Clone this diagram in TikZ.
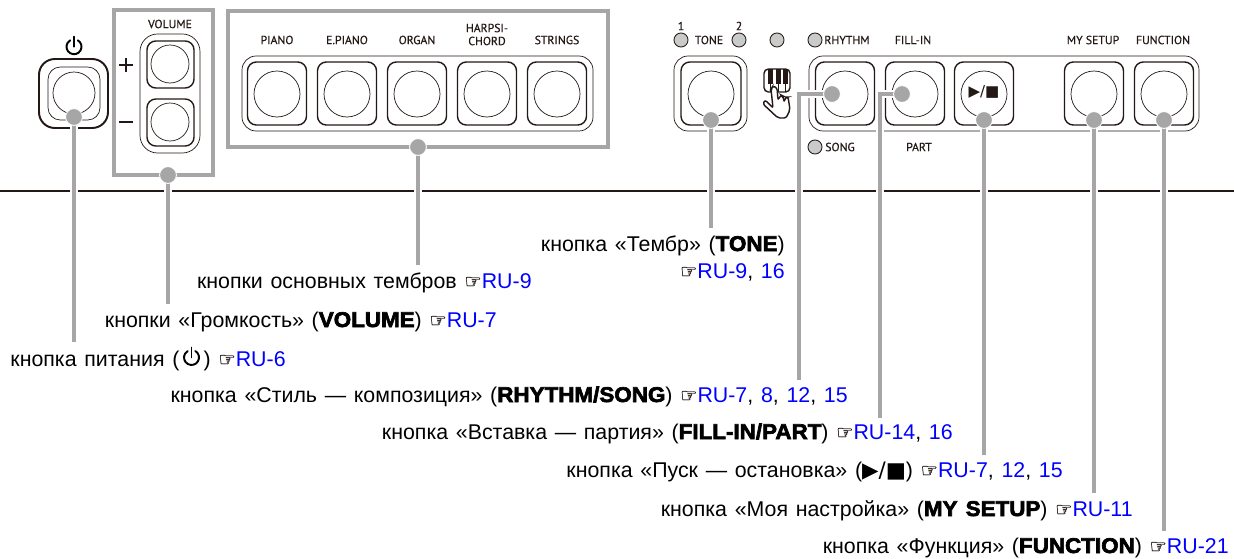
\documentclass[tikz,border=0pt]{standalone}
\usepackage{fontspec}
\setmainfont{Liberation Sans}[WordSpace=1.3,BoldFeatures={FakeBold=3,FakeStretch=1.05}]
\newfontfamily\symfont{DejaVu Sans}
\newfontfamily\handfont{DejaVu Sans}[FakeBold=.6]
\newfontfamily\panelfont{PT Sans}[FakeBold=.5]
\definecolor{calloutgray}{HTML}{A6A6A6}
\definecolor{ledgray}{HTML}{C9CACA}
\definecolor{ink}{HTML}{231815}
\definecolor{linkblue}{HTML}{0000FF}
\pgfdeclarelayer{dots}
\pgfsetlayers{main,dots}
\newcommand{\pointer}{{\handfont\fontsize{11}{13}\selectfont\color{ink}☞}}
\newcommand{\pg}[1]{\textcolor{linkblue}{#1}}
\newcommand{\powericon}{\tikz[baseline=-.4em,x=1cm,y=1cm,line width=1.1pt,line cap=round]{\draw (60:.15)arc(60:-240:.15);\draw (0,.2)--(0,0);}}
\begin{document}
\begin{tikzpicture}[x=.02cm,y=-.02cm,>=latex,
    btn/.style={draw=ink,line width=.8pt,rounded corners=5pt},
    rim/.style={draw=ink,line width=.4pt,rounded corners=8pt},
    face/.style={draw=ink,line width=.4pt},
    led/.style={circle,draw=ink,line width=.5pt,fill=ledgray,minimum size=8pt,inner sep=0pt},
    tag/.style={font=\panelfont\fontsize{6.7}{7.4}\selectfont,text=ink,inner sep=0pt,align=center},
    groupbox/.style={draw=calloutgray,line width=2.3pt},
    dot/.style={circle,fill=calloutgray,draw=white,line width=.5pt,minimum size=9.6pt,inner sep=0pt},
    callout/.style={draw=calloutgray,line width=2.3pt,preaction={draw=white,line width=4.2pt}},
    lbl/.style={anchor=base east,inner sep=0pt,text=black,font=\fontsize{12.15}{13}\selectfont}]
    \useasboundingbox (0,0) rectangle (1234,558);
    % power button
    \node[inner sep=0pt] (powerIcon) at (74,46) {\powericon};
    \draw[btn,line width=1.1pt,rounded corners=9pt] (39,59) rectangle (108,128);
    \draw[rim,rounded corners=7pt] (48,67) rectangle (100,120);
    \draw[face] (74,93) circle[radius=21];
    % volume
    \draw[groupbox] (114,10) rectangle (213,175);
    \node[tag] (tagVolume) at (170,24) {VOLUME};
    \draw[rim,rounded corners=10pt] (140,34) rectangle (200,153);
    \foreach \y in {64,122}
    {
        \draw[btn] (147,\y-23) rectangle (194,\y+24);
        \draw[face] (170,\y) circle[radius=19];
    }
    \draw[ink,line width=1pt] (119,65)--(133,65) (126,58)--(126,72) (119,122)--(133,122);
    % tone group
    \draw[groupbox] (228,11) rectangle (608,147);
    \draw[rim] (242,56) rectangle (593,131);
    \foreach \x/\t in {277/PIANO,347/E.PIANO,417/ORGAN,557/STRINGS}
    {
        \node[tag] (tag\t) at (\x,40) {\t};
    }
    \node[tag] (tagHarpsi) at (487,34.5) {HARPSI-\\CHORD};
    \foreach \x in {277,347,417,487,557}
    {
        \draw[btn] (\x-29.5,62) rectangle (\x+29.5,125);
        \draw[face] (\x,94) circle[radius=23];
    }
    % tone button and lamps
    \draw[rim] (674,56) rectangle (747,131);
    \draw[btn] (681,62) rectangle (741,125);
    \draw[face] (711,94) circle[radius=23];
    \foreach \n/\x/\y in {a/681/40,b/739/40,c/777/40,d/815/40,e/815/147}
    {
        \node[led] (led\n) at (\x,\y) {};
    }
    \node[tag] (tagOne) at (681,26) {1};
    \node[tag] (tagTwo) at (739,26) {2};
    \node[tag] (tagTone) at (709,40) {TONE};
    \node[tag] (tagRhythm) at (847,40) {RHYTHM};
    \node[tag] (tagFill) at (913,40) {FILL-IN};
    \node[tag] (tagSong) at (840,147) {SONG};
    \node[tag] (tagPart) at (919,147) {PART};
    \node[tag] (tagSetup) at (1093,40) {MY SETUP};
    \node[tag] (tagFunc) at (1163,40) {FUNCTION};
    % keyboard and hand
    \draw[ink,line width=.8pt,rounded corners=2.5pt] (764,69) rectangle (790,92);
    \foreach \x in {768,776,783}
    {
        \fill[ink] (\x,69) rectangle (\x+4.5,84);
        \draw[ink,line width=.4pt] (\x+2.2,84)--(\x+2.2,92);
    }
    \draw[ink,line width=.8pt,fill=white,rounded corners=1.2pt] (778,118)--(763,104)--(765,100)--(773,108)--(771,89)--(773,86)--(777,88)--(778,100)--(781,95)--(783,96)--(784,102)--(786,97)--(788,97)--(789,103)--(790,110)--(786,118)--cycle;
    % main panel
    \draw[rim] (809,56) rectangle (1199,131);
    \foreach \x in {845,915,984,1094,1164}
    {
        \draw[btn] (\x-29.5,62) rectangle (\x+29.5,125);
        \draw[face] (\x,94) circle[radius=23];
    }
    \node[inner sep=0pt,text=ink,font=\symfont\fontsize{8.6}{9}\selectfont] (playIcon) at (984,92) {▶/■};
    % floor line
    \draw[ink,line width=.7pt] (0,191)--(1234,191);
    % callouts
    \begin{pgfonlayer}{dots}
    \node[dot] (dotPower) at (74,117) {};
    \node[dot] (dotVolume) at (168,175) {};
    \node[dot] (dotGroup) at (418,147) {};
    \node[dot] (dotTone) at (711,120) {};
    \node[dot] (dotRhythm) at (832,94) {};
    \node[dot] (dotFill) at (902,94) {};
    \node[dot] (dotPlay) at (984,120) {};
    \node[dot] (dotSetup) at (1094,120) {};
    \node[dot] (dotFunc) at (1164,120) {};
    \end{pgfonlayer}
    \coordinate (endPower) at (74,342);
    \coordinate (endVolume) at (168,304);
    \coordinate (endGroup) at (418,265);
    \coordinate (endTone) at (711,228);
    \coordinate (endRhythm) at (799,380);
    \coordinate (endFill) at (880,418);
    \coordinate (endPlay) at (984,455);
    \coordinate (endSetup) at (1094,493);
    \coordinate (endFunc) at (1164,531);
    \foreach \n in {Power,Volume,Group,Tone,Play,Setup,Func}
    {
        \draw[callout] (dot\n.center)--(end\n);
    }
    \draw[callout] (dotRhythm.center)-|(endRhythm);
    \draw[callout] (dotFill.center)-|(endFill);
    % labels
    \node[lbl] (lblTone) at (785,251) {кнопка «Тембр» (\textbf{TONE})};
    \node[lbl] (refTone) at (785,278) {\pointer\pg{RU-9}, \pg{16}};
    \node[lbl] (lblGroup) at (532,288) {кнопки основных тембров \pointer\pg{RU-9}};
    \node[lbl] (lblVolume) at (497,327) {кнопки «Громкость» (\textbf{VOLUME}) \pointer\pg{RU-7}};
    \node[lbl] (lblPower) at (286,366) {кнопка питания (\hspace{1.5pt}\powericon\hspace{1.5pt}) \pointer\pg{RU-6}};
    \node[lbl] (lblRhythm) at (848,402) {кнопка «Стиль — композиция» (\textbf{RHYTHM/SONG}) \pointer\pg{RU-7}, \pg{8}, \pg{12}, \pg{15}};
    \node[lbl] (lblFill) at (953,439) {кнопка «Вставка — партия» (\textbf{FILL-IN/PART}) \pointer\pg{RU-14}, \pg{16}};
    \node[lbl] (lblPlay) at (1063,477) {кнопка «Пуск — остановка» ({\symfont ▶/■}) \pointer\pg{RU-7}, \pg{12}, \pg{15}};
    \node[lbl] (lblSetup) at (1133,516) {кнопка «Моя настройка» (\textbf{MY SETUP}) \pointer\pg{RU-11}};
    \node[lbl] (lblFunc) at (1229,553) {кнопка «Функция» (\textbf{FUNCTION}) \pointer\pg{RU-21}};
\end{tikzpicture}
\end{document}
